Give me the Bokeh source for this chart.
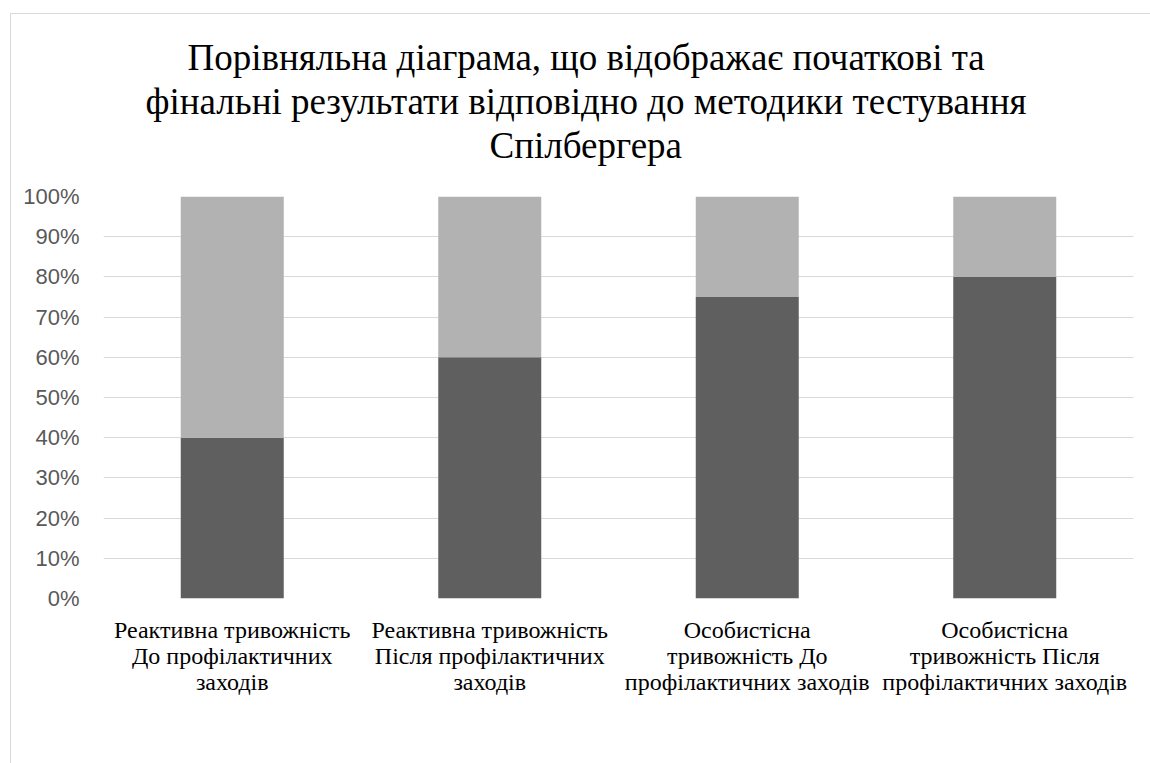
from bokeh.plotting import figure
from bokeh.models import (Title, Legend, NumeralTickFormatter, FixedTicker, Range1d)
from bokeh.embed import file_html
from bokeh.resources import INLINE

categories = [
    "Реактивна тривожність\nДо профілактичних\nзаходів",
    "Реактивна тривожність\nПісля профілактичних\nзаходів",
    "Особистісна\nтривожність До\nпрофілактичних заходів",
    "Особистісна\nтривожність Після\nпрофілактичних заходів",
]
series_names = ["Низький рівень", "Середній рівень"]
low = [0.40, 0.60, 0.75, 0.80]
mid = [0.60, 0.40, 0.25, 0.20]
y_ticks = [0, 0.1, 0.2, 0.3, 0.4, 0.5, 0.6, 0.7, 0.8, 0.9, 1.0]
title_lines = [
    "Порівняльна діаграма, що відображає початкові та",
    "фінальні результати відповідно до методики тестування",
    "Спілбергера",
]
# left offsets (px from plot-area left) that centre each title line on the chart area
title_offsets = [84, 42, 386]

data = {"cat": categories, "low": low, "mid": mid}

p = figure(x_range=categories, y_range=Range1d(0, 1),
           frame_width=1030, frame_height=402,
           output_backend="svg", toolbar_location=None,
           min_border_left=92, min_border_right=17, min_border_top=182,
           min_border_bottom=165)
p.margin = (13, 0, 0, 10)
p.styles = {"border-left": "1px solid #d9d9d9", "border-top": "1px solid #d9d9d9"}
p.outline_line_color = None

rs = p.vbar_stack(["low", "mid"], x="cat", width=0.4, source=data,
                  color=["#5f5f5f", "#b2b2b2"], line_color=None)

# spacer between plot area and title
p.add_layout(Title(text=" ", text_font_size="1px", standoff=27), "above")
for line, off in zip(reversed(title_lines), reversed(title_offsets)):
    p.add_layout(Title(text=line, align="left", offset=off,
                       text_font="Liberation Serif", text_font_size="37px",
                       text_font_style="normal", text_color="#000000",
                       standoff=1), "above")

p.yaxis.ticker = FixedTicker(ticks=y_ticks)
p.yaxis.formatter = NumeralTickFormatter(format="0%")
p.yaxis.axis_line_color = None
p.yaxis.major_tick_line_color = None
p.yaxis.minor_tick_line_color = None
p.yaxis.major_label_text_font = "Liberation Sans"
p.yaxis.major_label_text_font_size = "22px"
p.yaxis.major_label_text_color = "#595959"
p.yaxis.major_label_standoff = 18

p.xaxis.axis_line_color = None
p.xaxis.major_tick_line_color = None
p.xaxis.major_label_text_font = "Liberation Serif"
p.xaxis.major_label_text_font_size = "24px"
p.xaxis.major_label_text_line_height = 1.0
p.xaxis.major_label_text_color = "#000000"
p.xaxis.major_label_standoff = 12
p.xaxis.major_label_text_align = "center"

p.xgrid.grid_line_color = None
p.ygrid.grid_line_color = "#d9d9d9"
p.ygrid.grid_line_width = 1

legend = Legend(items=[(series_names[0], [rs[0]]), (series_names[1], [rs[1]])],
                orientation="horizontal", location="top_center",
                border_line_color=None, background_fill_alpha=0,
                label_text_font="Liberation Serif", label_text_font_size="24px",
                label_text_color="#000000", glyph_width=12, glyph_height=12,
                spacing=32, label_standoff=5, margin=24, padding=0)
p.add_layout(legend, "below")

open("out.html", "w").write(file_html(p, INLINE))
